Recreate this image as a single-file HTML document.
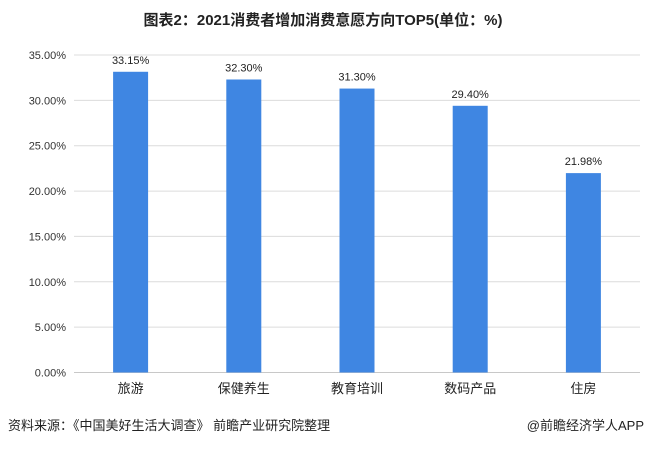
<!DOCTYPE html>
<html><head><meta charset="utf-8"><style>
body{margin:0;background:#fff;width:647px;height:446px;overflow:hidden;font-family:"Liberation Sans","Noto Sans CJK SC",sans-serif;}
</style></head><body>
<svg id="c" width="647" height="446" xmlns="http://www.w3.org/2000/svg">
<text x="323" y="25" text-anchor="middle" font-size="15" font-weight="bold" fill="#222">图表2：2021消费者增加消费意愿方向TOP5(单位：%)</text>
<g id="grid"></g><g id="bars"></g>
<text x="8" y="430" font-size="13" fill="#222">资料来源：《中国美好生活大调查》 前瞻产业研究院整理</text>
<text x="644" y="430" text-anchor="end" font-size="13" fill="#222">@前瞻经济学人APP</text>
</svg>
<script>
const categories=["旅游","保健养生","教育培训","数码产品","住房"];
const values=[33.15,32.30,31.30,29.40,21.98];
const ticks=[0,5,10,15,20,25,30,35];
const x0=74,x1=640,yBase=372.5,yTop=55,max=35;
const ns="http://www.w3.org/2000/svg";
const y=v=>yBase-(v/max)*(yBase-yTop);
const band=(x1-x0)/categories.length;
const xc=i=>x0+band*(i+0.5);
function mk(t,a,p,txt){const e=document.createElementNS(ns,t);for(const k in a)e.setAttribute(k,a[k]);if(txt!==undefined)e.textContent=txt;p.appendChild(e);return e;}
const g=document.getElementById('grid'),b=document.getElementById('bars');
ticks.forEach(t=>{
 const l=mk('line',{x1:x0,x2:x1,y1:y(t),y2:y(t),stroke:t===0?'#c8c8c8':'#dcdcdc','stroke-width':1},g);
 
 
 const tx=mk('text',{x:66,y:y(t)+4,'text-anchor':'end','font-size':11,fill:'#333'},g,t.toFixed(2)+'%');
 
 
});
values.forEach((v,i)=>{
 const r=mk('rect',{x:xc(i)-17.5,y:y(v),width:35,height:yBase-y(v),fill:'#3f86e2'},b);
 
 
 const lb=mk('text',{x:xc(i),y:y(v)-8,'text-anchor':'middle','font-size':11,fill:'#222'},b,v.toFixed(2)+'%');
 
 
 const c=mk('text',{x:xc(i),y:393,'text-anchor':'middle','font-size':13,fill:'#222'},b,categories[i]);
 
 
});
</script>
</body></html>
